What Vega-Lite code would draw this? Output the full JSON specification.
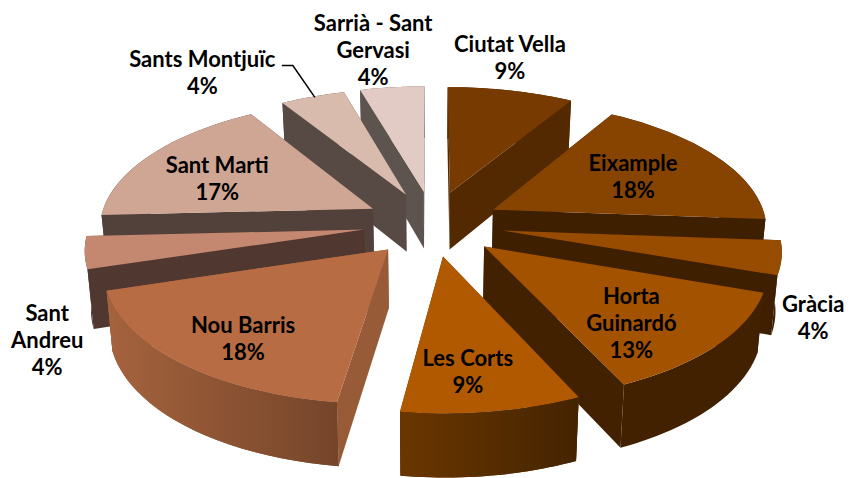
{"$schema":"https://vega.github.io/schema/vega-lite/v6.json","width":852,"height":478,"padding":0,"autosize":{"type":"fit","contains":"padding"},"background":"white","view":{"stroke":null},
"params":[{"name":"cx","value":430},{"name":"cy","value":218},{"name":"Rx","value":272},{"name":"Ry","value":126},{"name":"pk","value":0.13},{"name":"n","value":24},
{"name":"offs","expr":"{'Ciutat Vella':[0.075,-0.195],'Eixample':[0.233,-0.056],'Gràcia':[0.261,0.109],'Horta Guinardó':[0.193,0.231],'Les Corts':[0.046,0.305],'Nou Barris':[-0.149,0.253],'Sant Andreu':[-0.239,0.102],'Sant Marti':[-0.211,-0.064],'Sants Montjuïc':[-0.09,-0.179],'Sarrià - Sant Gervasi':[-0.023,-0.203]}"}],
"data":{"values":[
{"district":"Ciutat Vella","label":"Ciutat Vella","share":8.6,"seq":1},
{"district":"Sarrià - Sant Gervasi","label":"Sarrià - Sant\nGervasi","share":4.4,"seq":10},
{"district":"Sants Montjuïc","label":"Sants Montjuïc","share":4.4,"seq":9},
{"district":"Eixample","label":"Eixample","share":17.6,"seq":2},
{"district":"Sant Marti","label":"Sant Marti","share":17,"seq":8},
{"district":"Gràcia","label":"Gràcia","share":4.2,"seq":3},
{"district":"Sant Andreu","label":"Sant\nAndreu","share":4,"seq":7},
{"district":"Horta Guinardó","label":"Horta\nGuinardó","share":12.8,"seq":4},
{"district":"Nou Barris","label":"Nou Barris","share":18,"seq":6},
{"district":"Les Corts","label":"Les Corts","share":9,"seq":5}
]},
"layer":[
{"transform":[
{"window":[{"op":"sum","field":"share","as":"cum"}],"sort":[{"field":"seq","order":"ascending"}]},
{"calculate":"datum.cum/100*2*PI","as":"a2"},
{"calculate":"(datum.cum-datum.share)/100*2*PI","as":"a1"},
{"calculate":"(datum.a1+datum.a2)/2","as":"m"},
{"calculate":"cos(datum.m)>0?['rim','wallU','wallL','top']:['wallU','wallL','rim','top']","as":"parts"},
{"flatten":["parts"],"as":["part"]},
{"calculate":"datum.part==='top'?sequence(0,n+2):datum.part==='rim'?sequence(0,2*n+2):sequence(0,4)","as":"idx"},
{"flatten":["idx"],"as":["i"]},
{"calculate":"datum.part==='top'?(datum.i===0?0:1):datum.part==='rim'?1:((datum.i===0||datum.i===3)?0:1)","as":"r"},
{"calculate":"datum.part==='top'?datum.a1+(datum.i-1)/n*(datum.a2-datum.a1):datum.part==='rim'?(datum.i<=n?datum.a1+datum.i/n*(datum.a2-datum.a1):datum.a2-(datum.i-n-1)/n*(datum.a2-datum.a1)):((datum.part==='wallU')===(sin(datum.m)>0)?datum.a1:datum.a2)","as":"ang"},
{"calculate":"datum.part==='top'?0:datum.part==='rim'?(datum.i<=n?0:1):(datum.i>=2?1:0)","as":"low"},
{"calculate":"datum.r*sin(datum.ang)+offs[datum.district][0]","as":"u"},
{"calculate":"-datum.r*cos(datum.ang)+offs[datum.district][1]","as":"v"},
{"calculate":"cx+Rx*datum.u/(1-pk*datum.v)*(1-0.018*datum.low)","as":"px"},
{"calculate":"cy+Ry*datum.v/(1-pk*datum.v)+datum.low*(58+5*datum.v)","as":"py"},
{"calculate":"datum.district+'|'+(datum.part==='top'?'top':datum.part==='rim'?'rim':'wall')","as":"face"},
{"calculate":"datum.district+'|'+datum.part","as":"pid"}
],
"mark":{"type":"line","interpolate":"linear-closed","filled":true,"strokeWidth":0},
"encoding":{
"x":{"field":"px","type":"quantitative","scale":{"domain":[0,852]},"axis":null},
"y":{"field":"py","type":"quantitative","scale":{"domain":[478,0]},"axis":null},
"detail":{"field":"pid"},
"order":{"field":"i","type":"quantitative"},
"fill":{"field":"face","type":"nominal","legend":null,"scale":{
"domain":["Ciutat Vella|top","Ciutat Vella|wall","Ciutat Vella|rim","Eixample|top","Eixample|wall","Eixample|rim","Gràcia|top","Gràcia|wall","Gràcia|rim","Horta Guinardó|top","Horta Guinardó|wall","Horta Guinardó|rim","Les Corts|top","Les Corts|wall","Les Corts|rim","Nou Barris|top","Nou Barris|wall","Nou Barris|rim","Sant Andreu|top","Sant Andreu|wall","Sant Andreu|rim","Sant Marti|top","Sant Marti|wall","Sant Marti|rim","Sants Montjuïc|top","Sants Montjuïc|wall","Sants Montjuïc|rim","Sarrià - Sant Gervasi|top","Sarrià - Sant Gervasi|wall","Sarrià - Sant Gervasi|rim"],
"range":["#773a00","#522900","#522900","#864400","#3e1f00","#3e1f00","#984c00","#3e1f00","#3e1f00","#a35200","#422100","#422100","#b05900","#6b3600","#5a2d00","#b86c43","#975b38","#8c5433","#c48870","#503730","#503730","#cfa594","#52403a","#52403a","#d9bbae","#574a44","#574a44","#e3cbc5","#5e544f","#5e544f"]}}
}},
{"transform":[
{"window":[{"op":"sum","field":"share","as":"cum"}],"sort":[{"field":"seq","order":"ascending"}]},
{"filter":"datum.district==='Les Corts'"},
{"calculate":"datum.cum/100*2*PI","as":"a2"},
{"calculate":"(datum.cum-datum.share)/100*2*PI","as":"a1"},
{"calculate":"sequence(0,2*n+2)","as":"idx"},
{"flatten":["idx"],"as":["i"]},
{"calculate":"datum.i<=n?datum.a1+datum.i/n*(datum.a2-datum.a1):datum.a2-(datum.i-n-1)/n*(datum.a2-datum.a1)","as":"ang"},
{"calculate":"datum.i<=n?0:1","as":"low"},
{"calculate":"sin(datum.ang)+offs[datum.district][0]","as":"u"},
{"calculate":"-cos(datum.ang)+offs[datum.district][1]","as":"v"},
{"calculate":"cx+Rx*datum.u/(1-pk*datum.v)*(1-0.018*datum.low)","as":"px"},
{"calculate":"cy+Ry*datum.v/(1-pk*datum.v)+datum.low*(58+5*datum.v)","as":"py"}
],
"mark":{"type":"line","interpolate":"linear-closed","strokeWidth":0,"filled":true,"fill":{"gradient":"linear","x1":0,"x2":1,"y1":0,"y2":0,"stops":[{"offset":0,"color":"#6b3600"},{"offset":1,"color":"#442400"}]}},
"encoding":{
"x":{"field":"px","type":"quantitative","scale":{"domain":[0,852]},"axis":null},
"y":{"field":"py","type":"quantitative","scale":{"domain":[478,0]},"axis":null},
"order":{"field":"i","type":"quantitative"}
}},
{"transform":[
{"window":[{"op":"sum","field":"share","as":"cum"}],"sort":[{"field":"seq","order":"ascending"}]},
{"filter":"datum.district==='Nou Barris'"},
{"calculate":"datum.cum/100*2*PI","as":"a2"},
{"calculate":"(datum.cum-datum.share)/100*2*PI","as":"a1"},
{"calculate":"sequence(0,2*n+2)","as":"idx"},
{"flatten":["idx"],"as":["i"]},
{"calculate":"datum.i<=n?datum.a1+datum.i/n*(datum.a2-datum.a1):datum.a2-(datum.i-n-1)/n*(datum.a2-datum.a1)","as":"ang"},
{"calculate":"datum.i<=n?0:1","as":"low"},
{"calculate":"sin(datum.ang)+offs[datum.district][0]","as":"u"},
{"calculate":"-cos(datum.ang)+offs[datum.district][1]","as":"v"},
{"calculate":"cx+Rx*datum.u/(1-pk*datum.v)*(1-0.018*datum.low)","as":"px"},
{"calculate":"cy+Ry*datum.v/(1-pk*datum.v)+datum.low*(58+5*datum.v)","as":"py"}
],
"mark":{"type":"line","interpolate":"linear-closed","strokeWidth":0,"filled":true,"fill":{"gradient":"linear","x1":0,"x2":1,"y1":0,"y2":0,"stops":[{"offset":0,"color":"#a5633d"},{"offset":1,"color":"#75452a"}]}},
"encoding":{
"x":{"field":"px","type":"quantitative","scale":{"domain":[0,852]},"axis":null},
"y":{"field":"py","type":"quantitative","scale":{"domain":[478,0]},"axis":null},
"order":{"field":"i","type":"quantitative"}
}},
{"transform":[
{"calculate":"{'Ciutat Vella':[0.353,-1.544],'Eixample':[0.78,-0.348],'Gràcia':[1.277,0.72],'Horta Guinardó':[0.668,0.752],'Les Corts':[0.12,1.054],'Nou Barris':[-0.611,0.853],'Sant Andreu':[-1.25,0.86],'Sant Marti':[-0.816,-0.331],'Sants Montjuïc':[-0.987,-1.376],'Sarrià - Sant Gervasi':[-0.253,-1.623]}[datum.district]","as":"lp"},
{"calculate":"datum.label+'\\n'+round(datum.share)+'%'","as":"txt"},
{"calculate":"cx+Rx*datum.lp[0]/(1-pk*datum.lp[1])","as":"px"},
{"calculate":"cy+Ry*datum.lp[1]/(1-pk*datum.lp[1])-13.5*(length(split(datum.txt,'\\n'))-1)+2.5","as":"py"}
],
"mark":{"type":"text","font":"Lato","fontWeight":"bold","fontSize":22,"lineHeight":27,"lineBreak":"\n","align":"center","baseline":"middle","color":"#000000"},
"encoding":{
"x":{"field":"px","type":"quantitative","scale":{"domain":[0,852]},"axis":null},
"y":{"field":"py","type":"quantitative","scale":{"domain":[478,0]},"axis":null},
"text":{"field":"txt"}
}},
{"transform":[
{"filter":"datum.district==='Sants Montjuïc'"},
{"calculate":"[[-0.646,-1.431],[-0.598,-1.431],[-0.483,-1.087]]","as":"pts"},
{"flatten":["pts"],"as":["pt"]},
{"calculate":"cx+Rx*datum.pt[0]/(1-pk*datum.pt[1])","as":"px"},
{"calculate":"cy+Ry*datum.pt[1]/(1-pk*datum.pt[1])","as":"py"},
{"calculate":"datum.pt[0]","as":"ord"}
],
"mark":{"type":"line","color":"#000000","strokeWidth":1.5},
"encoding":{
"x":{"field":"px","type":"quantitative","scale":{"domain":[0,852]},"axis":null},
"y":{"field":"py","type":"quantitative","scale":{"domain":[478,0]},"axis":null},
"order":{"field":"ord","type":"quantitative"}
}}
]}
